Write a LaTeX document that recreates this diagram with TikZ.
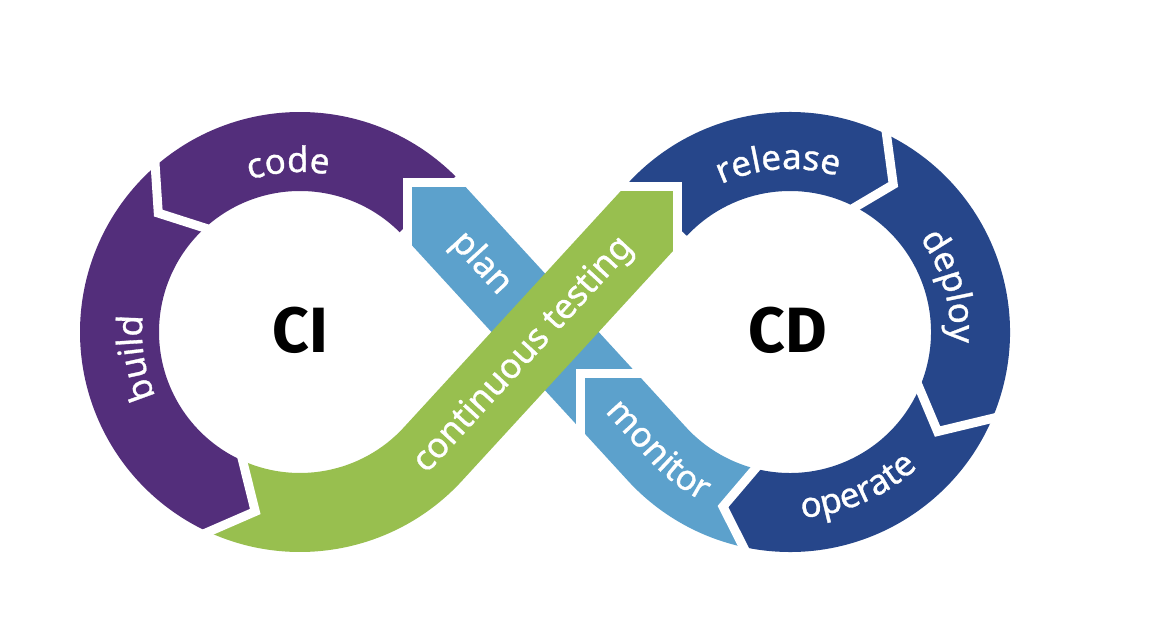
\documentclass[tikz,border=0pt]{standalone}
\usepackage{fontspec}
\newfontfamily\labfam{Noto Sans}[FakeBold=0.9]
\newfontfamily\bigfam{Fira Sans}
\usetikzlibrary{calc,decorations.text}
\definecolor{cipurple}{HTML}{532E7B}
\definecolor{ctgreen}{HTML}{98BF4F}
\definecolor{ltblue}{HTML}{5CA1CC}
\definecolor{dkblue}{HTML}{26468A}
\newcommand{\labfont}{\labfam\fontsize{35}{40}\selectfont}
\newcommand{\bigfont}{\bigfam\bfseries\fontsize{64}{70}\selectfont}
\begin{document}
\begin{tikzpicture}[x=1pt,y=1pt,
  gap/.style={draw=white, line width=9pt},
  bigtext/.style={font=\bigfont, text=black, inner sep=0pt}]
\useasboundingbox (0,0) rectangle (1162,629);
\fill[white] (0,0) rectangle (1162,629);
\coordinate (C1) at (300,297);
\coordinate (C2) at (790,297);
% ---------- CI ring ----------
\fill[cipurple] ($(C1)+(45:220)$) arc[start angle=45, end angle=130, radius=220]
  -- ($(C1)+(140:185)$) -- ($(C1)+(131:141)$)
  arc[start angle=131, end angle=45, radius=141] -- cycle;
\fill[cipurple] ($(C1)+(130:220)$) arc[start angle=130, end angle=244, radius=220]
  -- ($(C1)+(256:185)$) -- ($(C1)+(244:141)$)
  arc[start angle=244, end angle=131, radius=141] -- ($(C1)+(140:185)$) -- cycle;
% ---------- CD ring ----------
\fill[dkblue] ($(C2)+(137:220)$) arc[start angle=137, end angle=65, radius=220]
  -- ($(C2)+(55:180)$) -- ($(C2)+(64:141)$)
  arc[start angle=64, end angle=137, radius=141] -- cycle;
\fill[dkblue] ($(C2)+(65:220)$) arc[start angle=65, end angle=-22, radius=220]
  -- ($(C2)+(-34:178)$) -- ($(C2)+(-21:141)$)
  arc[start angle=-21, end angle=64, radius=141] -- ($(C2)+(55:180)$) -- cycle;
\fill[dkblue] ($(C2)+(-22:220)$) arc[start angle=-22, end angle=-101, radius=220]
  -- ($(C2)+(-111:187)$) -- ($(C2)+(-103:141)$)
  arc[start angle=-103, end angle=-21, radius=141] -- ($(C2)+(-34:178)$) -- cycle;
% ---------- blue band: plan + monitor ----------
\fill[ltblue] (585,195.1) -- (412,383.6) -- (412,442) -- (465.6,442) -- (640.9,251) -- (585,251) -- cycle;
\fill[ltblue] ($(C2)+(222.55:220)$) arc[start angle=222.55, end angle=259, radius=220]
  -- ($(C2)+(249:187)$) -- ($(C2)+(257:141)$)
  arc[start angle=257, end angle=222.55, radius=141]
  -- (640.9,251) -- (585,251) -- (585,195.1) -- cycle;
% ---------- green band: continuous testing ----------
\fill[ctgreen] ($(C1)+(244:220)$) arc[start angle=244, end angle=317.45, radius=220]
  -- (673,378.0) -- (673,438) -- (620.8,438) -- ($(C1)+(317.45:141)$)
  arc[start angle=317.45, end angle=244, radius=141] -- ($(C1)+(256:185)$) -- cycle;
% ---------- white gaps ----------
\draw[gap] ($(C1)+(130:226)$) -- ($(C1)+(140:185)$) -- ($(C1)+(131:135)$);
\draw[gap] ($(C1)+(244:226)$) -- ($(C1)+(256:185)$) -- ($(C1)+(244:135)$);
\draw[gap] ($(C2)+(65:226)$) -- ($(C2)+(55:180)$) -- ($(C2)+(64:135)$);
\draw[gap] ($(C2)+(-22:226)$) -- ($(C2)+(-34:178)$) -- ($(C2)+(-21:135)$);
\draw[gap] ($(C2)+(-101:226)$) -- ($(C2)+(-111:187)$) -- ($(C2)+(-103:135)$);
\draw[gap] (407.5,378) -- (407.5,446.5) -- (471,446.5);
\draw[gap] (677.5,372) -- (677.5,442.5) -- (615,442.5);
\draw[gap] (646,255.5) -- (580.5,255.5) -- (580.5,190);
% ---------- labels ----------
\path[decorate, decoration={text along path, text align=center, text color=white,
  text={|\labfont|code}}] ($(C1)+(130:160)$) arc[start angle=130, end angle=58, radius=160];
\path[decorate, decoration={text along path, text align=center, text color=white,
  text={|\labfont|build}}] ($(C1)+(225:158)$) arc[start angle=225, end angle=153, radius=158];
\path[decorate, decoration={text along path, text align=center, text color=white,
  text={|\labfont|release}}] ($(C2)+(135:163)$) arc[start angle=135, end angle=53, radius=163];
\path[decorate, decoration={text along path, text align=center, text color=white,
  text={|\labfont|deploy}}] ($(C2)+(55:160)$) arc[start angle=55, end angle=-23, radius=160];
\path[decorate, decoration={text along path, text align=center, text color=white,
  text={|\labfont|operate}}] ($(C2)+(-110:186)$) arc[start angle=-110, end angle=-23, radius=186];
\path[decorate, decoration={text along path, text align=center, text color=white,
  text={|\labfont|plan}}] (433.7,403.4) -- (514.9,315.0);
\path[decorate, decoration={text along path, text align=center, text color=white,
  text={|\labfont|monitor}}] (599.0,223.5) -- (649.7,168.2)
  arc[start angle=222.55, end angle=245.1, radius=190.5];
\path[decorate, decoration={text along path, text align=center, text color=white,
  text={|\labfont|continuous testing}}] ($(C1)+(305.35:189.5)$)
  arc[start angle=305.35, end angle=317.45, radius=189.5] -- (647.9,395.8);
\node[bigtext] (ci) at (300,299) {CI};
\node[bigtext] (cd) at (788,299) {CD};
\end{tikzpicture}
\end{document}
